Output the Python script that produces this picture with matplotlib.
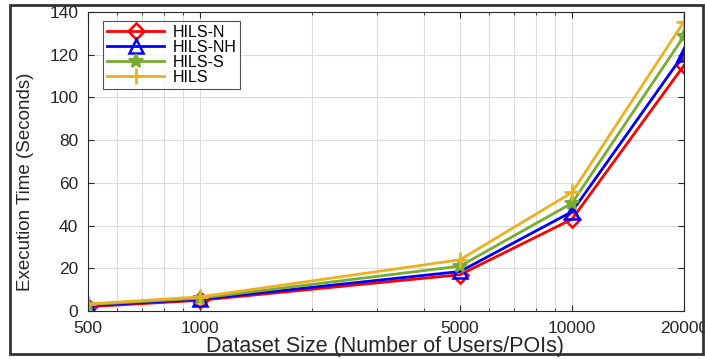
import matplotlib.pyplot as plt
from matplotlib.patches import Rectangle
from matplotlib.ticker import FixedLocator, NullFormatter

# dataset sizes and execution times (seconds)
sizes = [500, 1000, 5000, 10000, 20000]
hils_n = [2.0, 5.0, 17.0, 43.0, 115.0]
hils_nh = [2.5, 5.5, 18.5, 46.5, 120.5]
hils_s = [3.0, 6.0, 21.0, 50.5, 128.7]
hils = [3.3, 6.6, 24.0, 55.5, 135.5]

plt.rcParams["font.family"] = ["Liberation Sans", "DejaVu Sans"]

fig = plt.figure(figsize=(7.05, 3.59), dpi=100)
ax = fig.add_axes([0.1248, 0.1337, 0.8454, 0.8329])

ax.plot(sizes, hils_n, color="#ff0000", lw=2.0, marker="D", ms=8,
        mfc="none", mew=1.8, label="HILS-N")
ax.plot(sizes, hils_nh, color="#0000ff", lw=2.0, marker="^", ms=10,
        mfc="none", mew=1.8, label="HILS-NH")
ax.plot(sizes, hils_s, color="#77ac30", lw=2.0, marker="*", ms=10,
        mew=1.5, label="HILS-S")
ax.plot(sizes, hils, color="#edb120", lw=2.0, marker="+", ms=12,
        mew=2.0, label="HILS")

ax.set_xscale("log")
ax.set_xlim(500, 20000)
ax.set_ylim(0, 140)
ax.set_xticks(sizes)
ax.set_xticklabels([str(s) for s in sizes])
minor = [600, 700, 800, 900, 2000, 3000, 4000, 6000, 7000, 8000, 9000]
ax.xaxis.set_minor_locator(FixedLocator(minor))
ax.xaxis.set_minor_formatter(NullFormatter())
ax.set_yticks(range(0, 141, 20))

ax.grid(True, which="both", color="#dcdcdc", lw=0.8)
ax.set_axisbelow(True)
ax.tick_params(which="both", direction="in", top=True, right=True,
               labelsize=12.5, colors="#262626", length=4, pad=7)
ax.tick_params(which="minor", length=2)
for s in ax.spines.values():
    s.set_color("#262626")
    s.set_linewidth(0.8)

# x label placed by its baseline near the bottom frame
fig.text(385.5 / 705, 7 / 359, "Dataset Size (Number of Users/POIs)",
         fontsize=15.5, color="#262626", ha="center", va="baseline")
ax.set_ylabel("Execution Time (Seconds)", fontsize=13.5, color="#262626")
ax.yaxis.set_label_coords(-0.09, 0.433)

leg = ax.legend(loc="upper left", bbox_to_anchor=(0.025, 0.970),
                borderaxespad=0, fontsize=11.5, frameon=True, fancybox=False,
                edgecolor="#262626", handlelength=3.6, borderpad=0.25,
                labelspacing=0.0, handletextpad=0.5)
leg.get_frame().set_linewidth(0.8)

# outer frame around the figure
fig.patches.append(Rectangle((10 / 705, 5 / 359), 693 / 705, 349 / 359,
                             transform=fig.transFigure, fill=False,
                             edgecolor="#333333", lw=2))

fig.savefig("out.png", dpi=100)
